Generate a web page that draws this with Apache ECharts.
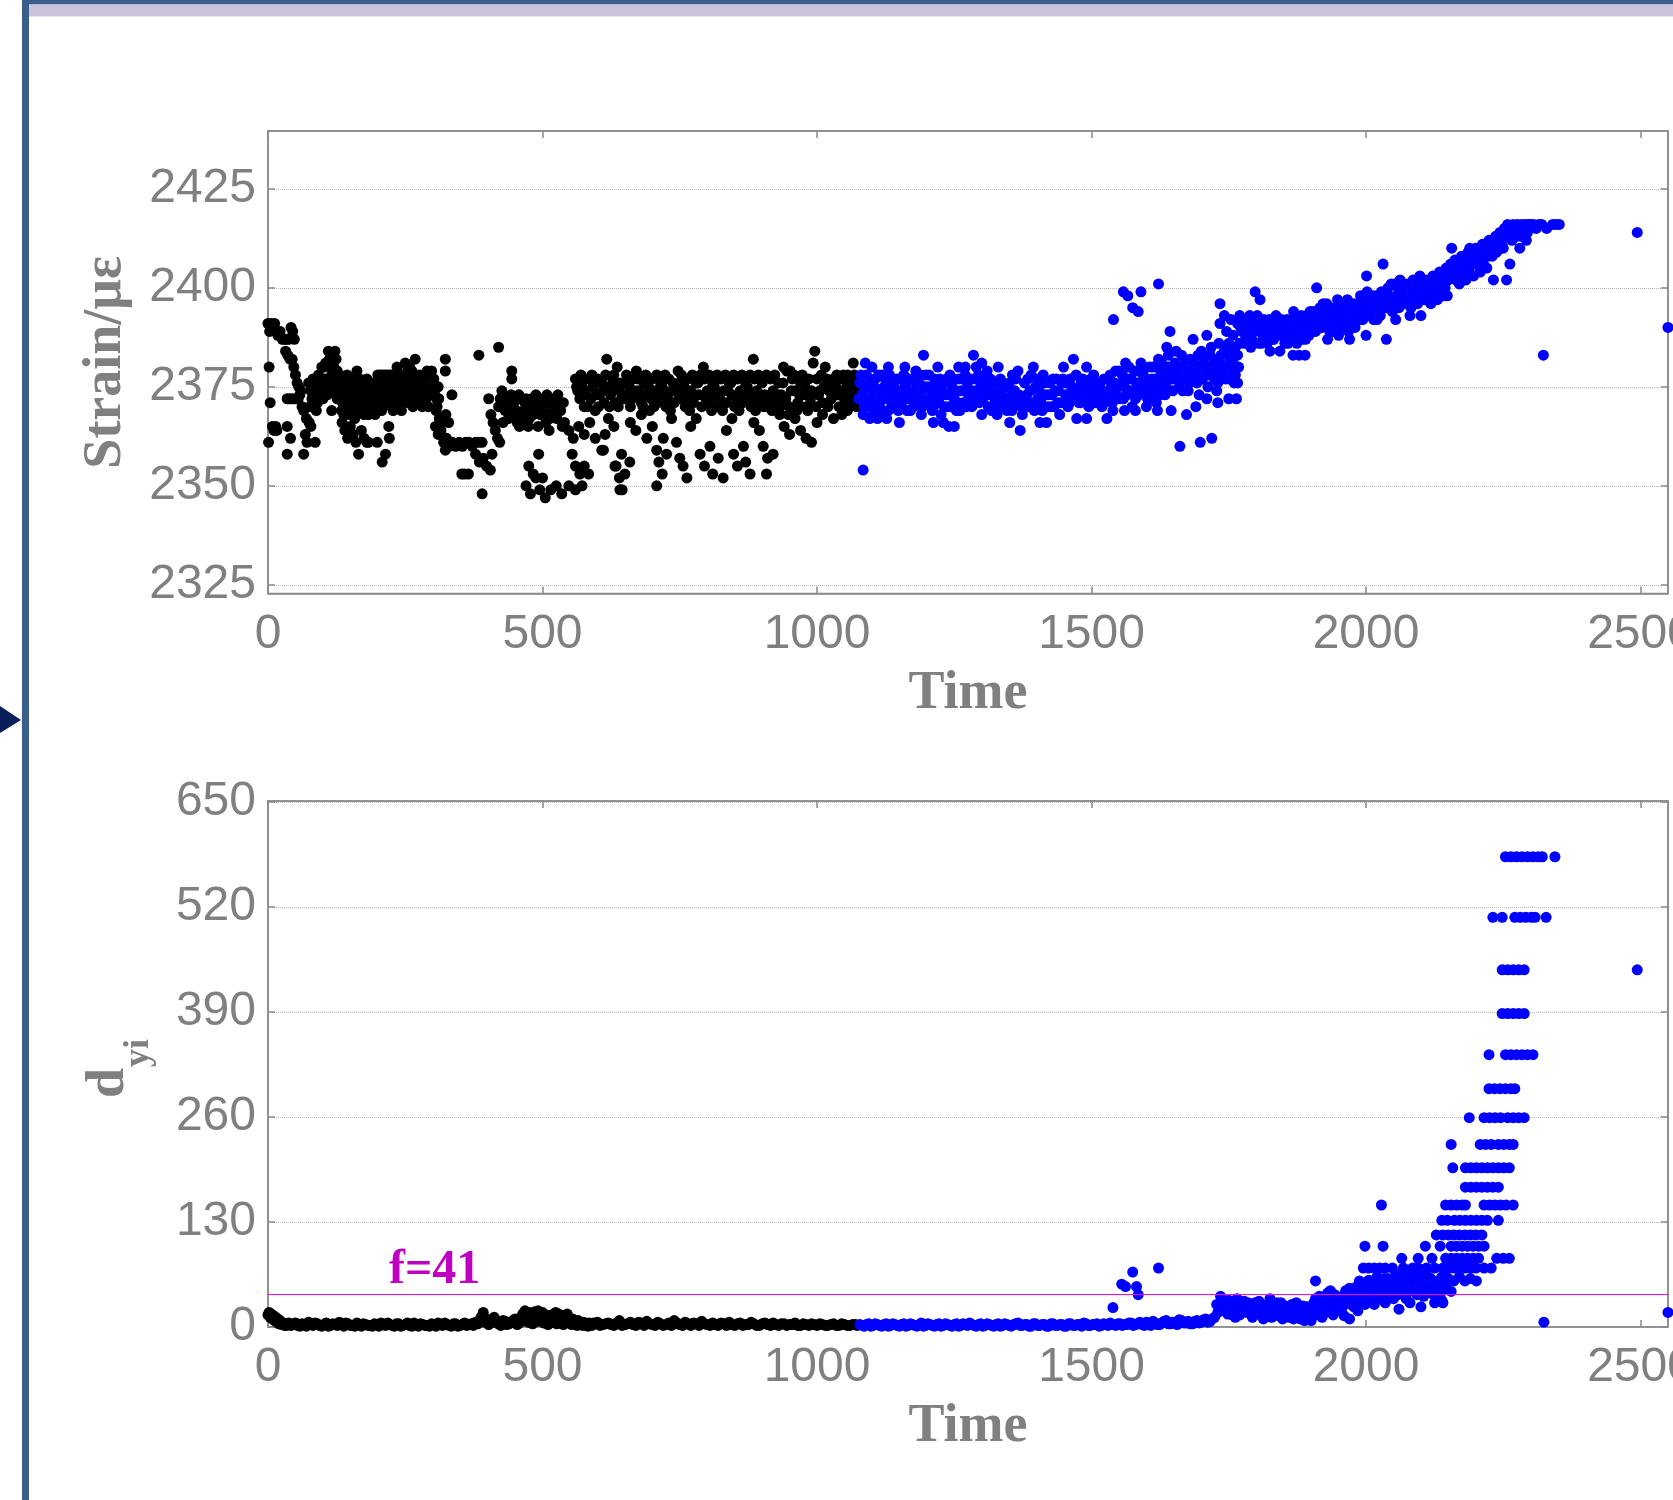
<!DOCTYPE html>
<html>
<head>
<meta charset="utf-8">
<script src="https://cdn.jsdelivr.net/npm/echarts@6.0.0/dist/echarts.min.js"></script>
<style>
html,body{margin:0;padding:0;background:#fff;overflow:hidden;}
#c{width:1673px;height:1500px;}
</style>
</head>
<body>
<div id="c"></div>
<script>
// ---------- tick labels ----------
const timeTicks = [0, 500, 1000, 1500, 2000, 2500];
const strainTicks = [2325, 2350, 2375, 2400, 2425];
const dTicks = [0, 130, 260, 390, 520, 650];
const threshold = 41;
const thresholdLabel = 'f=41';

// ---------- top chart: strain, before change (black) ----------
const strainBlack = [
[0,2391],[3,2389],[6,2391],[9,2390],[12,2391],[2,2380],[4,2371],[1,2361],[8,2365],[11,2364],[14,2365],[16,2364],[18,2388],[22,2389],[26,2387],[30,2387],[34,2387],[38,2387],[42,2390],[45,2389],[48,2387],
[32,2384],[36,2383],[40,2382],[44,2382],[47,2380],[50,2378],[53,2376],[56,2375],[58,2373],[60,2374],[35,2372],[40,2372],[45,2372],[50,2372],[55,2372],
[35,2365],[35,2358],[65,2358],[41,2362],[68,2363],[71,2361],[86,2361],[65,2369],[70,2367],[75,2366],[78,2365],[62,2370],
[74,2376],[78,2374],[80,2372],[82,2377],[85,2375],[88,2373],[90,2371],[92,2378],[95,2376],[97,2374],[100,2372],[102,2380],[104,2377],[106,2375],[108,2373],[110,2384],[112,2382],[114,2380],[116,2378],[118,2376],[120,2374],[122,2384],[124,2382],[126,2379],[128,2377],[116,2369],[98,2380],[105,2381],[120,2380],[126,2372],[76,2370],[88,2369],
[130,2375],[133,2373],[136,2371],[139,2376],[142,2374],[145,2372],[148,2370],[151,2375],[154,2373],[157,2371],[160,2368],[163,2376],[166,2374],[169,2372],[172,2370],[175,2368],[178,2375],[181,2373],[184,2371],[187,2369],[190,2374],[193,2372],[196,2370],[162,2379],
[135,2366],[140,2364],[145,2362],[150,2365],[155,2363],[160,2361],[170,2364],[175,2362],[180,2361],[165,2358],[183,2361],[199,2361],[208,2356],[214,2358],[138,2368],[158,2367],
[200,2378],[204,2378],[208,2378],[212,2378],[216,2378],[220,2378],[224,2378],[202,2374],[206,2372],[210,2370],[214,2375],[218,2373],[222,2371],[226,2376],[230,2374],[234,2372],[238,2370],[242,2375],[235,2380],[240,2378],[228,2369],[220,2365],[221,2362],[244,2373],[246,2371],
[250,2381],[254,2379],[258,2380],[262,2379],[268,2382],[252,2376],[256,2374],[260,2372],[264,2370],[268,2376],[272,2374],[276,2372],[280,2376],[284,2374],[288,2372],[290,2379],[294,2378],[298,2379],[300,2375],[304,2373],[308,2370],[311,2372],[306,2369],[312,2367],[318,2366],[324,2368],[329,2366],[323,2382],[323,2379],[335,2373],
[305,2365],[310,2363],[315,2364],[320,2361],[325,2362],[330,2360],[336,2361],[342,2360],[348,2361],[354,2360],[360,2361],[366,2361],[372,2360],[378,2361],[384,2361],[390,2361],[323,2359],[353,2353],[358,2353],[365,2353],[384,2383],[420,2385],[378,2358],[385,2356],[392,2357],[398,2355],[405,2354],[408,2358],[390,2348],
[402,2372],[406,2368],[410,2366],[414,2364],[418,2362],[422,2361],[426,2374],[432,2369],[444,2379],[444,2377],
[420,2370],[428,2366],[436,2372],[440,2370],[446,2368],[450,2372],[454,2366],[460,2372],[466,2369],[470,2372],[476,2367],[480,2372],[486,2370],[490,2372],[496,2368],[500,2372],[506,2366],[510,2371],[516,2369],[520,2372],[526,2367],[530,2371],[536,2365],[458,2365],[474,2365],[492,2365],[512,2364],
[475,2355],[488,2352],[470,2350],[478,2348],[495,2349],[505,2347],[515,2349],[525,2350],[535,2348],[493,2358],[483,2353],[500,2352],
[540,2366],[548,2364],[556,2362],[566,2365],[576,2363],[586,2366],[596,2362],[554,2358],[560,2355],[568,2353],[576,2355],[584,2353],[548,2350],[560,2349],[572,2350],
[560,2377],[564,2374],[568,2372],[572,2376],[576,2370],[580,2374],[584,2377],[588,2372],[592,2375],[596,2369],[600,2377],[604,2373],[608,2376],[612,2371],[617,2382],[620,2375],[624,2373],[628,2377],[632,2371],[636,2380],[640,2374],[644,2372],[608,2359],[614,2363],[634,2355],[640,2352],[645,2349],
[650,2376],[655,2373],[660,2370],[665,2377],[671,2379],[675,2374],[680,2371],[685,2376],[690,2373],[695,2369],[700,2377],[705,2374],[710,2371],[715,2376],[720,2373],[725,2370],[730,2377],[735,2374],[740,2371],[747,2379],[750,2376],[755,2373],[760,2370],[765,2377],[770,2374],[775,2371],[780,2376],[785,2373],[793,2380],[790,2370],[795,2377],[800,2374],[805,2371],[810,2376],[815,2373],[820,2370],[825,2377],[830,2374],[835,2371],[840,2376],[845,2373],[850,2370],[855,2377],[860,2374],[865,2371],[870,2376],[875,2373],[880,2370],[884,2382],[886,2377],[890,2374],[895,2371],[900,2376],[905,2373],[910,2370],[915,2377],[920,2374],[925,2371],[930,2376],[935,2373],[939,2380],[945,2379],[951,2379],[950,2370],[955,2377],[960,2374],[965,2371],[970,2376],[975,2373],[980,2370],[985,2377],[990,2374],[996,2384],[993,2381],[1000,2377],[1005,2374],[1010,2371],[1015,2380],[1018,2377],[1022,2374],[1026,2372],[1030,2377],[1034,2375],[1038,2373],[1042,2377],[1046,2374],[1050,2372],[1054,2376],[1058,2374],[1062,2372],[1066,2381],[1066,2376],[1070,2374],[1073,2372],
[611,2359],[620,2367],[630,2365],[644,2358],[632,2355],[650,2353],[659,2356],[641,2349],[660,2366],[670,2364],[680,2368],[690,2362],[700,2365],[708,2359],[712,2356],[718,2353],[726,2358],[708,2350],[720,2362],[735,2367],[744,2361],[750,2357],[756,2355],[763,2352],[770,2365],[780,2367],[787,2358],[795,2355],[805,2360],[810,2353],[820,2357],[829,2352],[835,2364],[845,2367],[848,2358],[855,2355],[866,2360],[870,2356],[878,2353],[885,2366],[895,2364],[902,2360],[910,2357],[920,2358],[908,2353],[932,2368],[940,2365],[950,2363],[960,2367],[970,2364],[980,2362],[990,2361],[1000,2366],[1010,2368],[1030,2367],[1045,2368],[1055,2369],
[131,2378],[134,2369],[137,2377],[141,2368],[144,2378],[147,2375],[150,2368],[153,2377],[156,2369],[159,2376],[164,2370],[167,2377],[171,2375],[174,2373],[177,2371],[180,2377],[183,2368],[186,2375],[189,2372],[192,2376],[195,2368],[198,2375],[203,2376],[207,2369],[211,2373],[215,2371],[219,2376],[223,2374],[227,2372],[231,2378],[236,2376],[239,2373],[243,2369],[247,2377],
[251,2373],[255,2371],[259,2377],[263,2375],[266,2373],[270,2378],[273,2371],[277,2378],[281,2370],[285,2377],[289,2375],[292,2370],[296,2374],[302,2377],[307,2372],[310,2375],
[423,2372],[431,2370],[438,2367],[443,2373],[448,2371],[452,2369],[457,2373],[463,2367],[468,2371],[473,2369],[478,2370],[483,2368],[488,2373],[493,2371],[498,2370],[503,2368],[508,2373],[513,2367],[518,2371],[523,2369],[528,2373],[533,2369],[538,2371],
[562,2375],[570,2378],[578,2373],[582,2370],[590,2378],[598,2373],[602,2370],[610,2374],[615,2378],[622,2370],[626,2375],[630,2378],[638,2370],[642,2376],[648,2372],[653,2378],[658,2375],[663,2372],[668,2374],[673,2377],[678,2373],[683,2370],[688,2378],[693,2375],[698,2372],[703,2370],[708,2378],[713,2373],[718,2375],[723,2378],[728,2372],[733,2369],[738,2376],[743,2374],[748,2372],[753,2378],[758,2375],[763,2372],[768,2369],[773,2378],[778,2373],[783,2376],[788,2378],[798,2372],[803,2378],[808,2369],[813,2375],[818,2378],[823,2372],[828,2369],[833,2378],[838,2374],[843,2376],[848,2378],[853,2372],[858,2369],[863,2378],[868,2373],[873,2375],[878,2378],[883,2372],[888,2369],[893,2378],[898,2373],[903,2370],[908,2378],[913,2372],[918,2369],[923,2378],[928,2373],[933,2370],[938,2376],[943,2372],[948,2368],[953,2374],[958,2378],[963,2369],[968,2373],[973,2378],[978,2375],[983,2369],[988,2372],[998,2370],[1003,2373],[1008,2378],[1013,2375],[1020,2370],[1028,2375],[1036,2378],[1040,2370],[1048,2378],[1052,2370],[1056,2378],[1060,2370],[1064,2374],[1068,2378],[1072,2370],[1074,2376]
];

// ---------- top chart: strain, after change (blue) ----------
const strainBlue = [
[1078,2376],[1082,2373],[1086,2370],[1090,2378],[1094,2375],[1098,2372],[1102,2369],[1106,2377],[1110,2374],[1114,2371],[1118,2378],[1122,2375],[1126,2372],[1130,2369],[1134,2376],[1138,2373],[1142,2370],[1146,2377],[1150,2374],[1154,2371],[1158,2378],[1162,2375],[1166,2372],[1170,2369],[1174,2377],[1178,2374],[1182,2371],[1186,2376],[1190,2373],[1194,2383],[1198,2378],[1202,2375],[1206,2372],[1210,2369],[1214,2377],[1218,2374],[1222,2371],[1226,2368],[1230,2376],[1234,2373],[1238,2370],[1242,2378],[1246,2375],[1250,2372],[1254,2369],[1258,2377],
[1084,2354],[1096,2367],[1110,2367],[1127,2367],[1150,2366],[1212,2366],[1230,2366],[1190,2368],[1100,2380],[1130,2380],[1160,2380],[1180,2379],[1220,2380],[1088,2381],
[1262,2374],[1266,2371],[1270,2378],[1274,2376],[1278,2373],[1282,2370],[1285,2383],[1288,2377],[1292,2374],[1296,2371],[1300,2368],[1304,2376],[1308,2373],[1312,2370],[1316,2377],[1320,2374],[1324,2371],[1328,2368],[1332,2376],[1336,2373],[1340,2370],[1344,2375],[1348,2372],[1351,2366],[1355,2369],[1360,2374],[1364,2371],[1370,2364],[1374,2368],[1258,2380],[1270,2380],[1290,2380],[1300,2381],[1310,2379],[1330,2380],[1356,2378],[1366,2379],[1240,2365],[1250,2365],
[1378,2376],[1382,2373],[1386,2370],[1390,2378],[1394,2380],[1398,2375],[1402,2372],[1406,2366],[1410,2369],[1414,2376],[1418,2366],[1422,2373],[1426,2370],[1430,2377],[1434,2374],[1438,2371],[1442,2368],[1446,2376],[1449,2380],[1453,2373],[1457,2370],[1461,2377],[1467,2382],[1470,2374],[1473,2367],[1477,2371],[1481,2376],[1485,2373],[1491,2380],[1491,2367],[1495,2370],[1499,2377],[1503,2374],[1507,2371],[1511,2376],[1515,2373],[1519,2370],[1523,2377],[1528,2367],[1531,2374],[1534,2378],[1538,2371],
[1540,2392],[1558,2399],[1566,2398],[1575,2395],[1585,2394],[1590,2399],[1622,2401],
[1542,2376],[1546,2373],[1550,2379],[1554,2376],[1558,2372],[1562,2381],[1566,2377],[1570,2374],[1574,2370],[1578,2379],[1582,2376],[1586,2373],[1590,2381],[1594,2378],[1598,2375],[1602,2372],[1606,2380],[1610,2377],[1614,2374],[1618,2371],[1622,2382],[1626,2379],[1630,2376],[1634,2373],[1637,2385],[1640,2380],[1643,2389],[1646,2377],[1648,2374],[1560,2369],[1580,2369],[1600,2370],[1620,2369],[1645,2369],
[1652,2381],[1656,2378],[1660,2375],[1661,2360],[1664,2383],[1668,2380],[1673,2368],[1672,2377],[1676,2374],[1680,2382],[1685,2387],[1688,2379],[1692,2376],[1696,2373],[1698,2361],[1700,2384],[1704,2381],[1708,2378],[1710,2388],[1712,2375],[1716,2383],[1719,2362],[1720,2380],[1724,2377],[1728,2374],[1732,2386],[1736,2383],[1740,2380],[1744,2377],[1748,2385],[1752,2382],[1756,2379],[1760,2376],[1764,2372],[1766,2383],[1768,2380],[1690,2370],[1710,2372],[1730,2371],[1750,2372],
[1734,2396],[1734,2391],[1742,2393],[1746,2389],[1750,2386],[1754,2392],[1758,2388],[1762,2385],[1766,2391],[1770,2393],[1774,2389],[1778,2386],[1782,2392],[1786,2388],[1790,2385],[1794,2391],[1798,2399],[1802,2393],[1806,2389],[1807,2397],[1810,2386],[1814,2392],[1818,2388],[1822,2390],[1825,2384],[1830,2387],[1834,2391],[1838,2389],[1843,2384],[1846,2392],[1850,2388],[1854,2390],[1858,2386],[1862,2391],[1868,2394],[1872,2389],[1876,2387],[1880,2392],
[1867,2383],[1878,2383],[1889,2383],[1884,2387],[1888,2390],[1892,2393],[1896,2388],[1900,2391],[1904,2394],[1908,2389],[1910,2400],[1912,2392],[1916,2395],[1920,2390],[1924,2393],[1928,2396],[1932,2391],[1936,2394],[1940,2389],[1944,2392],[1948,2397],[1952,2393],[1956,2390],[1960,2395],[1964,2392],[1968,2389],[1972,2396],[1976,2393],[1980,2390],[1984,2395],[1988,2392],[1992,2397],[1996,2394],[2001,2403],[2004,2396],[2008,2393],[2012,2398],[2016,2395],[2020,2392],[2024,2397],[1930,2387],[1950,2388],[1970,2387],[2000,2388],
[2028,2399],[2031,2406],[2034,2396],[2037,2387],[2040,2400],[2044,2397],[2048,2394],[2052,2401],[2056,2398],[2060,2395],[2062,2402],[2066,2399],[2070,2396],[2074,2401],[2078,2398],[2082,2395],[2086,2402],[2090,2399],[2094,2396],[2098,2403],[2102,2400],[2106,2397],[2110,2402],[2114,2399],[2118,2396],[2122,2403],[2126,2400],[2130,2397],[2134,2404],[2138,2401],[2142,2398],[2146,2405],[2054,2392],[2080,2393],[2100,2393],
[2150,2402],[2154,2406],[2156,2410],[2158,2403],[2162,2407],[2166,2404],[2170,2401],[2174,2408],[2178,2405],[2182,2402],[2186,2409],[2189,2410],[2192,2406],[2196,2403],[2200,2410],[2204,2407],[2208,2404],[2212,2411],[2216,2408],[2220,2405],[2224,2412],[2228,2409],[2232,2402],[2236,2413],[2240,2410],[2244,2414],[2248,2411],[2252,2415],[2256,2402],[2258,2416],[2262,2406],[2264,2413],[2268,2416],[2272,2414],[2276,2416],[2280,2410],[2284,2416],[2288,2415],[2292,2412],[2296,2416],[2300,2416],[2305,2416],[2310,2415],[2315,2416],[2320,2416],[2323,2383],[2329,2415],[2340,2416],[2347,2416],[2352,2416],
[2494,2414],[2550,2390],
[1076,2372],[1080,2378],[1084,2368],[1088,2375],[1092,2371],[1096,2377],[1100,2373],[1104,2375],[1108,2370],[1112,2378],[1116,2373],[1120,2369],[1124,2377],[1128,2374],[1132,2378],[1136,2370],[1140,2375],[1144,2372],[1148,2369],[1152,2377],[1156,2373],[1160,2376],[1164,2369],[1168,2377],[1172,2373],[1176,2370],[1180,2376],[1184,2373],[1188,2378],[1192,2370],[1196,2375],[1200,2371],[1204,2378],[1208,2374],[1212,2370],[1216,2375],[1220,2372],[1224,2377],[1228,2374],[1232,2370],[1236,2377],[1240,2373],[1244,2370],[1248,2377],[1252,2374],[1256,2371],[1260,2369],[1264,2377],[1268,2374],[1272,2370],[1276,2372],[1280,2377],[1284,2374],[1290,2372],[1294,2378],[1298,2375],[1302,2372],[1306,2378],[1310,2375],[1314,2373],[1318,2369],[1322,2376],[1326,2373],[1330,2370],[1334,2377],[1338,2375],[1342,2371],[1346,2369],[1350,2376],[1354,2373],[1358,2371],[1362,2377],[1368,2373],[1372,2370],[1376,2372],[1380,2370],[1384,2377],[1388,2374],[1392,2371],[1396,2369],[1400,2377],[1404,2374],[1408,2371],[1412,2378],[1416,2373],[1420,2370],[1424,2376],[1428,2373],[1432,2370],[1436,2377],[1440,2374],[1444,2371],[1448,2377],[1452,2376],[1456,2373],[1460,2371],[1464,2375],[1468,2372],[1472,2378],[1476,2374],[1480,2371],[1484,2377],[1488,2374],[1492,2371],[1496,2375],[1500,2373],[1504,2378],[1508,2374],[1512,2371],[1516,2376],[1520,2374],[1524,2371],[1528,2377],[1532,2372],[1536,2375],[1539,2369],
[1544,2379],[1548,2375],[1552,2372],[1556,2378],[1560,2375],[1564,2373],[1568,2380],[1572,2377],[1576,2374],[1580,2372],[1584,2379],[1588,2376],[1592,2374],[1596,2380],[1600,2377],[1604,2375],[1608,2373],[1612,2380],[1616,2377],[1620,2375],[1624,2373],[1628,2381],[1632,2378],[1636,2375],[1640,2383],[1644,2379],[1650,2377],[1654,2384],[1658,2380],[1662,2377],[1666,2374],[1670,2382],[1674,2379],[1678,2376],[1682,2378],[1686,2381],[1690,2378],[1694,2383],[1698,2380],[1702,2377],[1706,2383],[1710,2380],[1714,2378],[1718,2385],[1722,2382],[1726,2379],[1730,2376],[1734,2381],[1738,2378],[1742,2384],[1746,2380],[1750,2377],[1754,2383],[1758,2381],[1762,2378],[1766,2376],[1770,2386],
[1772,2390],[1776,2392],[1780,2388],[1784,2390],[1788,2393],[1792,2387],[1796,2389],[1800,2392],[1804,2386],[1808,2391],[1812,2388],[1816,2390],[1820,2386],[1824,2392],[1828,2389],[1832,2387],[1836,2393],[1840,2390],[1844,2388],[1848,2391],[1852,2386],[1856,2392],[1860,2388],[1864,2390],[1870,2392],[1874,2386],[1878,2390],[1882,2393],[1886,2389],[1890,2387],[1894,2391],[1898,2394],[1902,2389],[1906,2392],[1914,2390],[1918,2393],[1922,2396],[1926,2391],[1930,2394],[1934,2389],[1938,2392],[1942,2395],[1946,2390],[1950,2393],[1954,2396],[1958,2392],[1962,2394],[1966,2397],[1970,2391],[1974,2394],[1978,2396],[1982,2392],[1986,2394],[1990,2398],[1994,2392],[1998,2396],[2002,2399],[2006,2394],[2010,2397],[2014,2392],[2018,2398],[2022,2395],[2026,2393],[2030,2398],[2036,2395],[2042,2398],[2046,2401],[2050,2396],[2058,2400],[2064,2397],[2068,2401],[2072,2398],[2076,2396],[2084,2399],[2088,2397],[2092,2401],[2096,2398],[2104,2402],[2108,2399],[2112,2397],[2116,2401],[2120,2399],[2124,2397],[2128,2402],[2132,2400],[2136,2398],[2140,2403],[2144,2400],[2148,2398],
[2152,2404],[2160,2405],[2164,2402],[2168,2406],[2172,2404],[2176,2407],[2180,2404],[2184,2406],[2188,2404],[2194,2408],[2198,2406],[2202,2409],[2206,2406],[2210,2408],[2214,2406],[2218,2410],[2222,2408],[2226,2411],[2230,2408],[2234,2411],[2238,2409],[2242,2412],[2246,2413],[2250,2410],[2254,2413],[2260,2414],[2266,2412],[2270,2415],[2274,2413],[2278,2415],[2282,2413],[2286,2414],[2290,2416],[2294,2414],[2298,2415]
];

// ---------- bottom chart: d_yi, before change (black) ----------
const dBlack = [
[0,15],[2,18],[4,12],[6,16],[8,10],[10,14],[12,8],[14,12],[16,6],[18,10],[20,4],[22,8],[25,3],[28,5],[30,2],
[35,4],[42,2],[50,5],[58,1],[66,3],[74,6],[82,2],[90,4],[98,1],[106,5],[114,2],[122,3],[130,6],[138,1],[146,4],[154,2],[162,5],[170,1],[178,3],[186,2],[194,4],[202,1],[210,3],[218,5],[226,2],[234,4],[242,1],[250,3],[258,2],[266,5],[274,1],[282,3],[290,2],[298,4],[306,1],[314,3],[322,5],[330,2],[338,4],[346,1],[354,3],[362,2],[370,4],[378,6],
[385,8],[392,18],[398,10],[405,6],[412,12],[420,4],[428,8],[435,3],[442,6],[450,10],[458,5],[464,16],[468,20],[472,12],[476,18],[480,8],[484,15],[488,10],[492,20],[496,14],[500,18],[504,8],[508,12],[512,6],[516,15],[520,9],[524,18],[528,12],[532,6],[536,14],[540,8],[545,16],[550,5],[555,10],[560,4],[565,8],[570,3],[575,6],[580,2],[585,5],[590,2],[595,4],
[600,6],[610,3],[620,5],[630,2],[640,8],[650,3],[660,6],[670,2],[680,5],[690,7],[700,3],[710,6],[720,2],[730,5],[740,8],[750,3],[760,6],[770,2],[780,4],[790,7],[800,3],[810,5],[820,2],[830,4],[840,6],[850,2],[860,5],[870,3],[880,6],[890,2],[900,4],[910,3],[920,5],[930,2],[940,4],[950,3],[960,5],[970,2],[980,3],[990,4],[1000,2],[1010,3],[1020,2],[1030,4],[1040,2],[1050,3],[1060,2],[1070,3],
[34,2],[38,5],[46,3],[54,2],[62,4],[70,1],[78,3],[86,5],[94,2],[102,3],[110,1],[118,4],[126,2],[134,3],[142,5],[150,2],[158,1],[166,3],[174,4],[182,2],[190,1],[198,3],[206,5],[214,2],[222,3],[230,1],[238,4],[246,2],[254,5],[262,1],[270,3],[278,4],[286,2],[294,1],[302,3],[310,5],[318,2],[326,3],[334,1],[342,4],[350,2],[358,5],[366,3],[374,2],[382,4],[388,12],[395,6],[402,3],[409,9],[416,5],[424,2],[432,7],[439,4],[446,8],[454,3],[461,12],[466,9],[470,17],[474,6],[478,14],[482,4],[486,19],[490,7],[494,16],[498,10],[502,5],[506,15],[510,3],[514,11],[518,6],[522,13],[526,4],[530,16],[534,9],[538,3],[543,11],[548,7],[553,3],[558,6],[563,2],[568,5],[573,2],[578,4],[583,1],[588,3],[593,5],[605,2],[615,4],[625,3],[635,5],[645,2],[655,4],[665,3],[675,6],[685,2],[695,4],[705,2],[715,4],[725,3],[735,2],[745,5],[755,2],[765,4],[775,5],[785,2],[795,4],[805,2],[815,3],[825,5],[835,2],[845,3],[855,4],[865,2],[875,3],[885,4],[895,2],[905,5],[915,2],[925,3],[935,4],[945,2],[955,3],[965,2],[975,4],[985,2],[995,3],[1005,4],[1015,2],[1025,3],[1035,2],[1045,4],[1055,2],[1065,3],[1073,2]
];

// ---------- bottom chart: d_yi, after change (blue) ----------
const dBlue = [
[1078,3],[1086,1],[1094,4],[1102,2],[1110,3],[1118,1],[1126,4],[1134,2],[1142,3],[1150,1],[1158,4],[1166,2],[1174,3],[1182,1],[1190,5],[1198,2],[1206,3],[1214,1],[1222,4],[1230,2],[1238,3],[1246,1],[1254,4],[1262,2],[1270,3],[1278,5],[1286,2],[1294,3],[1302,1],[1310,4],[1318,2],[1326,3],[1334,1],[1342,4],[1350,2],[1358,3],[1366,5],[1374,2],[1382,3],[1390,1],[1398,4],[1406,2],[1414,3],[1422,1],[1430,4],[1438,2],[1446,3],[1454,1],[1462,4],[1470,2],[1478,3],[1486,5],[1494,2],[1502,3],[1510,4],[1518,2],[1526,3],[1534,5],[1544,2],[1552,4],[1560,3],[1568,5],[1576,2],[1584,4],[1592,3],[1600,6],[1608,2],[1616,5],[1624,3],[1632,7],[1640,4],[1648,6],[1656,3],[1664,8],[1672,5],[1680,4],[1688,7],[1696,5],[1704,9],[1712,6],[1720,10],
[1082,2],[1090,3],[1098,1],[1106,4],[1114,2],[1122,3],[1130,1],[1138,4],[1146,2],[1154,3],[1162,1],[1170,4],[1178,2],[1186,3],[1194,1],[1202,4],[1210,2],[1218,3],[1226,1],[1234,4],[1242,2],[1250,3],[1258,1],[1266,4],[1274,2],[1282,3],[1290,1],[1298,4],[1306,2],[1314,3],[1322,1],[1330,4],[1338,2],[1346,3],[1354,1],[1362,4],[1370,2],[1378,3],[1386,1],[1394,4],[1402,2],[1410,3],[1418,1],[1426,4],[1434,2],[1442,3],[1450,1],[1458,4],[1466,2],[1474,3],[1482,1],[1490,4],[1498,2],[1506,3],[1514,1],[1522,4],[1530,2],[1538,3],[1548,4],[1556,2],[1564,3],[1572,5],[1580,3],[1588,6],[1596,2],[1604,4],[1612,7],[1620,3],[1628,5],[1636,8],[1644,4],[1652,6],[1660,9],[1668,5],[1676,7],[1684,4],[1692,8],[1700,6],[1708,10],[1716,7],[1724,12],
[1539,24],[1555,53],[1562,50],[1575,68],[1582,50],[1585,40],[1622,73],
[1728,28],[1735,38],[1740,30],[1745,25],[1750,33],[1755,22],[1760,30],[1765,35],[1768,25],[1742,20],[1756,15],[1762,12],
[1775,28],[1780,22],[1785,30],[1790,18],[1795,26],[1800,20],[1805,32],[1810,15],[1815,27],[1820,22],[1825,35],[1830,18],[1835,25],[1840,14],[1845,30],[1850,20],[1855,24],[1860,12],[1865,28],[1870,18],[1875,22],[1880,10],[1885,26],[1890,15],[1895,20],[1900,8],[1908,57],[1935,45],
[1730,18],[1738,25],[1748,16],[1752,28],[1758,20],[1770,15],[1778,32],[1783,18],[1788,25],[1793,12],[1798,30],[1803,16],[1808,24],[1813,10],[1818,20],[1823,28],[1828,12],[1833,22],[1838,30],[1843,18],[1848,10],[1853,26],[1858,16],[1863,22],[1868,10],[1873,30],[1878,16],[1883,20],[1888,8],[1893,25],[1898,15],[1903,20],[1908,35],[1913,15],[1918,30],[1923,22],[1928,35],[1933,20],[1938,30],[1943,40],[1948,22],[1953,35],[1958,26],[1963,45],[1968,30],[1973,38],[1978,25],[1983,50],[1988,35],[1993,42],[1998,28],[2003,45],[2008,32],[2013,55],[2018,38],[2023,48],[2028,35],[2033,60],[2038,42],[2043,50],[2048,38],[2053,55],[2058,40],[2063,62],[2068,48],[2073,35],[2078,65],[2083,45],[2088,55],[2093,40],[2098,65],[2103,50],[2113,45],[2118,60],[2123,40],[2128,55],[2133,45],[2138,62],[2143,50],
[1905,30],[1910,22],[1915,38],[1920,28],[1925,18],[1930,42],[1940,25],[1945,35],[1950,30],[1955,20],[1960,40],[1965,33],[1970,48],[1975,27],[1980,38],[1985,45],[1988,57],[1992,30],[1996,50],[1900,12],[1920,12],[1940,15],[1960,14],[1970,10],[1985,20],
[1995,73],[2005,73],[2015,73],[2025,73],[2035,73],[1998,100],[2031,100],[2028,151],
[2000,35],[2005,58],[2010,45],[2015,28],[2020,62],[2025,40],[2030,52],[2035,30],[2040,60],[2045,44],[2050,35],[2055,65],[2060,50],[2065,85],[2070,40],[2075,57],[2080,30],[2085,62],[2090,45],[2095,85],[2100,57],[2105,38],[2108,100],[2110,65],[2115,50],[2120,85],[2125,30],[2130,57],[2135,100],[2140,45],[2145,70],[2148,55],[2060,22],[2100,25],[2140,30],[2048,73],[2068,73],[2085,73],[2095,73],[2110,73],[2125,73],[2140,73],
[2145,85],[2155,85],[2165,85],[2175,85],[2185,85],[2195,85],[2205,85],[2238,85],[2250,85],[2261,85],
[2150,73],[2160,73],[2170,73],[2180,73],[2190,73],[2200,73],[2215,73],[2228,73],
[2150,60],[2160,57],[2170,62],[2180,57],[2190,60],[2201,57],[2138,33],[2155,44],
[2155,100],[2165,100],[2175,100],[2185,100],[2195,100],[2205,100],[2215,100],
[2128,114],[2140,114],[2150,114],[2160,114],[2170,114],[2180,114],[2190,114],[2200,114],[2211,114],
[2138,132],[2148,132],[2161,132],[2171,132],[2181,132],[2191,132],[2201,132],[2211,132],[2221,132],[2241,132],
[2145,151],[2155,151],[2165,151],[2175,151],[2181,151],[2215,151],[2225,151],[2235,151],[2245,151],[2255,151],[2268,151],
[2181,173],[2191,173],[2201,173],[2211,173],[2221,173],[2231,173],[2241,173],
[2158,197],[2181,197],[2191,197],[2201,197],[2211,197],[2221,197],[2231,197],[2241,197],[2251,197],[2261,197],
[2155,226],[2208,226],[2218,226],[2228,226],[2241,226],[2251,226],[2261,226],[2268,226],
[2188,259],[2215,259],[2225,259],[2235,259],[2245,259],[2258,259],[2268,259],[2278,259],[2288,259],
[2224,295],[2234,295],[2244,295],[2254,295],[2264,295],[2271,295],
[2224,337],[2254,337],[2264,337],[2274,337],[2284,337],[2294,337],[2304,337],
[2248,388],[2258,388],[2268,388],[2278,388],[2288,388],
[2248,442],[2258,442],[2268,442],[2278,442],[2288,442],[2494,442],
[2231,507],[2248,507],[2271,507],[2281,507],[2291,507],[2301,507],[2308,507],[2328,507],
[2254,582],[2264,582],[2274,582],[2284,582],[2294,582],[2304,582],[2314,582],[2321,582],[2344,582],
[2324,6],[2550,18]
];

// ---------- styling ----------
const GREY = '#808080';
const AXIS = '#8a8a8a';
const SERIF = '"Liberation Serif","Times New Roman",serif';
const SANS = '"Liberation Sans",Arial,sans-serif';
const plain = v => String(v);

function xAx(grid, pos, main, gap) {
  return {
    gridIndex: grid, type: 'value', position: pos, min: 0, max: 2550,
    axisLine: {show: true, onZero: false, lineStyle: {color: AXIS, width: 1.5}},
    axisTick: {show: true, inside: true, length: 7, customValues: timeTicks, lineStyle: {color: AXIS, width: 1.5}},
    axisLabel: {show: main, customValues: timeTicks, formatter: plain, color: GREY, fontSize: 48, fontFamily: SANS, margin: 17},
    splitLine: {show: false},
    name: main ? 'Time' : '', nameLocation: 'middle', nameGap: gap,
    nameTextStyle: {color: GREY, fontSize: 54, fontWeight: 'bold', fontFamily: SERIF}
  };
}
function yAx(grid, pos, main, mn, mx, ticks, name) {
  return {
    gridIndex: grid, type: 'value', position: pos, min: mn, max: mx,
    axisLine: {show: true, onZero: false, lineStyle: {color: AXIS, width: 1.5}},
    axisTick: {show: true, inside: true, length: 7, customValues: ticks, lineStyle: {color: AXIS, width: 1.5}},
    axisLabel: {show: main, customValues: ticks, formatter: plain, color: GREY, fontSize: 48, fontFamily: SANS, margin: 12, padding: [6, 0, 0, 0]},
    splitLine: {show: main, lineStyle: {color: '#b8b8b8', width: 1, type: 'dotted'}},
    name: name, nameLocation: 'middle', nameGap: 135, nameRotate: 90,
    nameTextStyle: {color: GREY, fontSize: 54, fontWeight: 'bold', fontFamily: SERIF}
  };
}
const dot = (color) => ({symbol: 'circle', symbolSize: 11, itemStyle: {color: color, opacity: 1}});

const chart = echarts.init(document.getElementById('c'), null, {renderer: 'canvas', width: 1673, height: 1500});
const option = {
  animation: false,
  backgroundColor: '#ffffff',
  grid: [
    {left: 268, top: 131, width: 1400, height: 462.6, show: true, borderColor: AXIS, borderWidth: 1.5, containLabel: false, outerBoundsMode: 'none'},
    {left: 268, top: 801, width: 1400, height: 526, show: true, borderColor: AXIS, borderWidth: 1.5, containLabel: false, outerBoundsMode: 'none'}
  ],
  xAxis: [xAx(0, 'bottom', true, 73), xAx(0, 'top', false, 0), xAx(1, 'bottom', true, 73), xAx(1, 'top', false, 0)],
  yAxis: [
    yAx(0, 'left', true, 2322.8, 2439.6, strainTicks, 'Strain/με'),
    yAx(0, 'right', false, 2322.8, 2439.6, strainTicks, ''),
    yAx(1, 'left', true, 0, 651, dTicks, ''),
    yAx(1, 'right', false, 0, 651, dTicks, '')
  ],
  series: [
    Object.assign({type: 'scatter', xAxisIndex: 0, yAxisIndex: 0, data: strainBlack}, dot('#000000')),
    Object.assign({type: 'scatter', xAxisIndex: 0, yAxisIndex: 0, data: strainBlue}, dot('#0000ff')),
    Object.assign({type: 'scatter', xAxisIndex: 2, yAxisIndex: 2, data: dBlack}, dot('#000000')),
    Object.assign({type: 'scatter', xAxisIndex: 2, yAxisIndex: 2, data: dBlue,
     markLine: {silent: true, symbol: 'none', animation: false,
       lineStyle: {color: '#ff00ff', width: 1, type: 'solid'},
       label: {show: false}, data: [{yAxis: threshold}]}}, dot('#0000ff'))
  ],
  graphic: {elements: [
    {type: 'rect', shape: {x: 22, y: 0, width: 1651, height: 4.5}, style: {fill: '#3a5e8c'}, z: 100},
    {type: 'rect', shape: {x: 29, y: 4.5, width: 1644, height: 12}, style: {fill: '#cbc3dc'}, z: 100},
    {type: 'rect', shape: {x: 22, y: 0, width: 7, height: 1500}, style: {fill: '#3a5e8c'}, z: 100},
    {type: 'polygon', shape: {points: [[0, 706], [21, 720], [0, 733]]}, style: {fill: '#0a1e5a'}, z: 100},
    {type: 'text', x: 389, y: 1271, style: {text: thresholdLabel, font: 'bold 48px ' + SERIF, fill: '#c000c0', align: 'left', verticalAlign: 'middle'}, z: 100},
    {type: 'group', x: 106, y: 1068, rotation: Math.PI / 2, z: 100, children: [
      {type: 'text', x: 0, y: 3, style: {text: 'd', font: 'bold 54px ' + SERIF, fill: GREY, align: 'right', verticalAlign: 'middle'}},
      {type: 'text', x: 1, y: 33, style: {text: 'yi', font: 'bold 36px ' + SERIF, fill: GREY, align: 'left', verticalAlign: 'middle'}}
    ]}
  ]}
};
chart.setOption(option);
</script>
</body>
</html>
